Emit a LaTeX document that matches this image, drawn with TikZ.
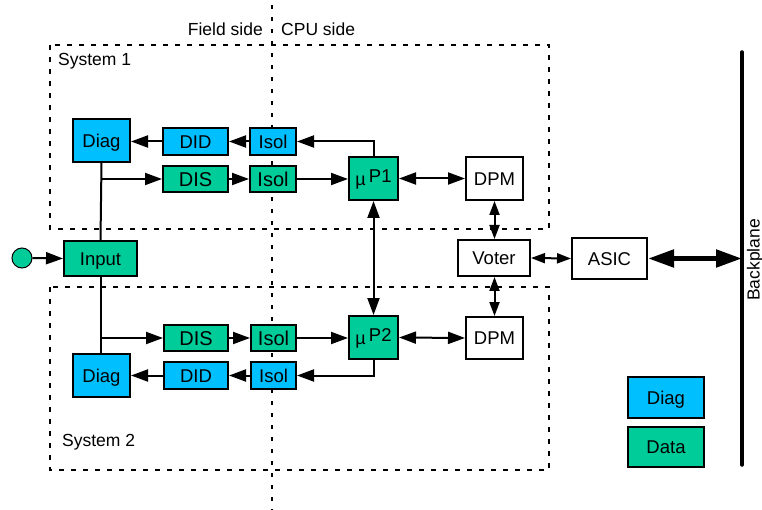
\documentclass[tikz,border=0pt]{standalone}
\usepackage{fontspec}
\setmainfont{Liberation Sans}
\usetikzlibrary{arrows.meta}
\definecolor{diagblue}{RGB}{0,191,255}
\definecolor{datagreen}{RGB}{0,204,153}
\begin{document}
\begin{tikzpicture}[x=1pt,y=-1pt,
  box/.style={draw=black,line width=2pt,inner sep=0pt,anchor=center,text height=13.2pt,text depth=0pt,font=\fontsize{18.5}{21}\selectfont},
  diagbox/.style={box,fill=diagblue},
  databox/.style={box,fill=datagreen},
  plainbox/.style={box,fill=white},
  bigtext/.style={font=\fontsize{20}{23}\selectfont,text height=14.3pt},
  conn/.style={line width=2pt,-{Triangle[length=17pt,width=12pt]}},
  biconn/.style={line width=2pt,{Triangle[length=17pt,width=12pt]}-{Triangle[length=17pt,width=12pt]}},
  slimbi/.style={line width=2pt,{Triangle[length=14pt,width=10pt]}-{Triangle[length=14pt,width=10pt]}},
  busconn/.style={line width=5pt,{Triangle[length=26pt,width=17pt]}-{Triangle[length=26pt,width=17pt]}},
  region/.style={line width=2pt,dash pattern=on 5pt off 7pt},
  divider/.style={line width=2pt,dash pattern=on 4pt off 8pt},
  label/.style={font=\fontsize{17.5}{20}\selectfont,inner sep=0pt}]
\useasboundingbox (0,0) rectangle (762,510);

% system regions and field/CPU divider
\draw[region] (50,45) rectangle (549,229);
\draw[region] (50,287) rectangle (549,470);
\draw[divider] (272,5) -- (272,510);

\node[label,anchor=east] (field) at (263,29) {Field side};
\node[label,anchor=west] (cpu) at (281,29) {CPU side};
\node[label,anchor=west] (sys1) at (58,61) {System 1};
\node[label,anchor=west] (sys2) at (62,442) {System 2};

% system 1
\node[diagbox,minimum width=57pt,minimum height=43pt] (diag1) at (101.5,140.5) {Diag};
\node[diagbox,minimum width=65pt,minimum height=27pt] (did1) at (195.5,141.5) {DID};
\node[diagbox,minimum width=46pt,minimum height=27pt] (isola1) at (273,141.5) {Isol};
\node[databox,bigtext,minimum width=65pt,minimum height=26pt] (dis1) at (195.5,179) {DIS};
\node[databox,bigtext,minimum width=46pt,minimum height=26pt] (isolb1) at (273,179) {Isol};
\node[databox,minimum width=49pt,minimum height=43pt] (mp1) at (373.5,178.5) {{\fontsize{18}{20}\selectfont µ}\,\raisebox{2.5pt}{P1}};
\node[plainbox,minimum width=57pt,minimum height=43pt] (dpm1) at (494.5,178.5) {DPM};

% input
\node[circle,draw=black,line width=1pt,fill=datagreen,minimum size=20pt,inner sep=0pt] (src) at (22,258) {};
\node[databox,minimum width=73pt,minimum height=35pt] (input) at (100.5,258.5) {Input};

% system 2
\node[databox,bigtext,minimum width=64pt,minimum height=26pt] (dis2) at (196,338) {DIS};
\node[databox,bigtext,minimum width=45pt,minimum height=26pt] (isolb2) at (273.5,338) {Isol};
\node[databox,minimum width=49pt,minimum height=43pt] (mp2) at (373.5,337.5) {{\fontsize{18}{20}\selectfont µ}\,\raisebox{2.5pt}{P2}};
\node[plainbox,minimum width=57pt,minimum height=42pt] (dpm2) at (494.5,338) {DPM};
\node[diagbox,minimum width=64pt,minimum height=27pt] (did2) at (196,375.5) {DID};
\node[diagbox,minimum width=45pt,minimum height=27pt] (isola2) at (273.5,375.5) {Isol};
\node[diagbox,minimum width=57pt,minimum height=43pt] (diag2) at (101.5,375.5) {Diag};

% voting and backplane
\node[plainbox,minimum width=72pt,minimum height=36pt] (voter) at (494,258) {Voter};
\node[plainbox,minimum width=75pt,minimum height=41pt] (asic) at (609.5,258.5) {ASIC};
\coordinate (bptop) at (742,52);
\coordinate (bpbot) at (742,465);
\draw[line width=3.5pt,line cap=round] (bptop) -- (bpbot);
\node[label,rotate=90] (bplabel) at (755,260) {Backplane};

% legend
\node[diagbox,minimum width=76pt,minimum height=41pt] (legdiag) at (666,397.5) {Diag};
\node[databox,minimum width=76pt,minimum height=40pt] (legdata) at (666,447) {Data};

% system 1 connectors
\coordinate (fork1) at (diag1.south |- dis1.west);
\draw[line width=2pt] (diag1.south) -- (input.north);
\draw[conn] (fork1) -- (dis1.west);
\draw[conn] (dis1.east) -- (isolb1.west);
\draw[conn] (isolb1.east) -- (isolb1.east -| mp1.west);
\draw[conn] (mp1.north) |- (isola1.east);
\draw[conn] (isola1.west) -- (did1.east);
\draw[conn] (did1.west) -- (did1.west -| diag1.east);
\draw[biconn] (mp1.east) -- (dpm1.west);

% system 2 connectors
\coordinate (fork2) at (input.south |- dis2.west);
\draw[line width=2pt] (input.south) -- (input.south |- diag2.north);
\draw[conn] (fork2) -- (dis2.west);
\draw[conn] (dis2.east) -- (isolb2.west);
\draw[conn] (isolb2.east) -- (isolb2.east -| mp2.west);
\draw[conn] (mp2.south) |- (isola2.east);
\draw[conn] (isola2.west) -- (did2.east);
\draw[conn] (did2.west) -- (did2.west -| diag2.east);
\draw[biconn] (mp2.east) -- (dpm2.west);

% cross-system links
\draw[conn] (src.east) -- (input.west);
\draw[biconn] (mp1.south) -- (mp2.north);
\draw[slimbi] (dpm1.south) -- (dpm1.south |- voter.north);
\draw[slimbi] (dpm2.north) -- (dpm2.north |- voter.south);
\draw[slimbi] (voter.east) -- (asic.west);
\draw[busconn] (asic.east) -- (asic.east -| bptop);
\end{tikzpicture}
\end{document}
